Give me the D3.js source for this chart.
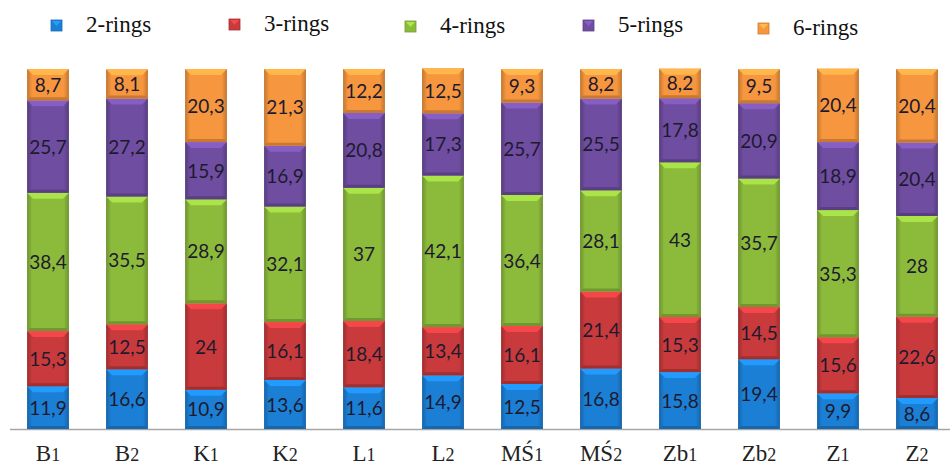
<!DOCTYPE html>
<html><head><meta charset="utf-8">
<script src="https://cdn.jsdelivr.net/npm/d3@7"></script>
<style>body{margin:0;background:#fff}svg{display:block}</style>
</head><body>
<svg id="c" width="950" height="465"></svg>
<script>
const categories = ["B1","B2","K1","K2","L1","L2","MŚ1","MŚ2","Zb1","Zb2","Z1","Z2"];
const seriesNames = ["2-rings","3-rings","4-rings","5-rings","6-rings"];
const rings2 = [11.9,16.6,10.9,13.6,11.6,14.9,12.5,16.8,15.8,19.4,9.9,8.6];
const rings3 = [15.3,12.5,24,16.1,18.4,13.4,16.1,21.4,15.3,14.5,15.6,22.6];
const rings4 = [38.4,35.5,28.9,32.1,37,42.1,36.4,28.1,43,35.7,35.3,28];
const rings5 = [25.7,27.2,15.9,16.9,20.8,17.3,25.7,25.5,17.8,20.9,18.9,20.4];
const rings6 = [8.7,8.1,20.3,21.3,12.2,12.5,9.3,8.2,8.2,9.5,20.4,20.4];
const seriesValues = [rings2, rings3, rings4, rings5, rings6];
const colors = ["#1c7fd6","#c93a3c","#8cbb3c","#6f4da1","#f6963e"];

const svg = d3.select("#c");
const plotTop = 69, plotBottom = 429;
const x = d3.scaleBand().domain(categories).range([8.5, 956.5]).paddingInner(0.47).paddingOuter(0.235);
const y = d3.scaleLinear().domain([0, 100]).range([plotBottom, plotTop]);

const rows = categories.map((c, i) => {
  const r = {cat: c};
  seriesNames.forEach((s, k) => r[s] = seriesValues[k][i]);
  return r;
});
const stack = d3.stack().keys(seriesNames)(rows);

const defs = svg.append("defs");
colors.forEach((col, k) => {
  const g = defs.append("linearGradient").attr("id", "g" + k).attr("x1", 0).attr("x2", 1).attr("y1", 0).attr("y2", 0);
  const c = d3.color(col);
  g.append("stop").attr("offset", "0%").attr("stop-color", c.darker(0.7));
  g.append("stop").attr("offset", "12%").attr("stop-color", c);
  g.append("stop").attr("offset", "88%").attr("stop-color", c);
  g.append("stop").attr("offset", "100%").attr("stop-color", c.darker(0.7));
});

// axis line
svg.append("line").attr("x1", 10).attr("x2", 950).attr("y1", plotBottom + 0.5).attr("y2", plotBottom + 0.5)
  .attr("stroke", "#a6a6a6").attr("stroke-width", 1.5);

const layers = svg.append("g").selectAll("g").data(stack).join("g");
layers.each(function(layer, k) {
  const g = d3.select(this);
  const col = d3.color(colors[k]);
  const bw = x.bandwidth();
  layer.forEach(d => {
    const x0 = x(d.data.cat), y0 = y(d[1]), y1 = y(d[0]);
    const h = y1 - y0;
    g.append("rect").attr("x", x0).attr("y", y0).attr("width", bw).attr("height", h)
      .attr("fill", `url(#g${k})`);
    const bv = 6;
    g.append("path").attr("d", `M${x0},${y0}L${x0+bw},${y0}L${x0+bw-bv},${y0+bv}L${x0+bv},${y0+bv}Z`)
      .attr("fill", col.brighter(0.55));
    g.append("path").attr("d", `M${x0},${y1}L${x0+bw},${y1}L${x0+bw-3},${y1-3}L${x0+3},${y1-3}Z`)
      .attr("fill", col.darker(0.6));
    g.append("text").attr("x", x0 + bw / 2).attr("y", (y0 + y1) / 2 + 7)
      .attr("text-anchor", "middle").attr("font-family", "Lato, 'Open Sans', sans-serif")
      .attr("font-size", 19).attr("fill", "#1e1a2e")
      .text(String(d.data[seriesNames[k]]).replace(".", ","));
  });
});

// category labels
const cl = svg.append("g");
categories.forEach(c => {
  const t = cl.append("text").attr("x", x(c) + x.bandwidth() / 2).attr("y", 461)
    .attr("text-anchor", "middle").attr("font-family", "'Liberation Serif', serif")
    .attr("font-size", 23).attr("fill", "#222");
  const m = c.match(/^(.*?)(\d+)$/);
  t.append("tspan").text(m[1]);
  t.append("tspan").attr("font-size", 18).text(m[2]);
});

// legend
const legX = [51, 229, 405, 583, 758];
const legY = [25, 24, 26, 25, 28];
const lg = svg.append("g");
seriesNames.forEach((s, k) => {
  const col = d3.color(colors[k]);
  lg.append("rect").attr("x", legX[k]).attr("y", legY[k] - 5).attr("width", 11).attr("height", 11)
    .attr("fill", col).attr("stroke", col.darker(0.5)).attr("stroke-width", 0.8);
  lg.append("path").attr("d", `M${legX[k]+1},${legY[k]-4}L${legX[k]+10},${legY[k]-4}L${legX[k]+5.5},${legY[k]+1}Z`)
    .attr("fill", col.brighter(0.6));
  lg.append("text").attr("x", legX[k] + 35).attr("y", legY[k] + 7)
    .attr("font-family", "'Liberation Serif', serif").attr("font-size", 23).attr("fill", "#111")
    .text(s);
});
</script>
</body></html>
